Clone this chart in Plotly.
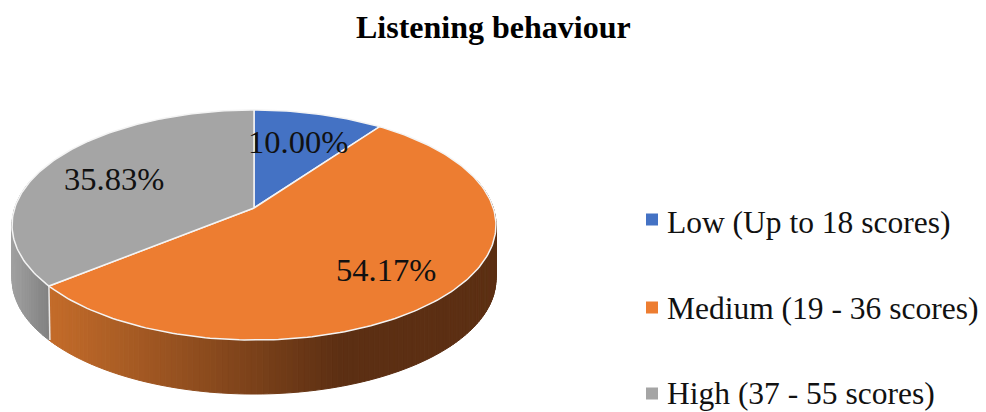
import math
import plotly.graph_objects as go

categories = ["Low (Up to 18 scores)", "Medium (19 - 36 scores)", "High (37 - 55 scores)"]
values = [10.00, 54.17, 35.83]
value_labels = ["10.00%", "54.17%", "35.83%"]
title_text = "Listening behaviour"
colors = ["#4472C4", "#ED7D31", "#A5A5A5"]

W, H = 986, 412
CX, CY = 254, 208
A, B, K = 239.3, 112.5, 0.148
DEPTH = 54
FONT = "Liberation Serif"


def project(angle_deg):
    t = math.radians(angle_deg)
    u, v = math.sin(t), math.cos(t)
    d = 1 + K * v
    return CX + A * u / d, CY - B * v / d


def mix(c1, c2, f):
    f = max(0.0, min(1.0, f))
    return "rgb(%d,%d,%d)" % tuple(round(a + (b - a) * f) for a, b in zip(c1, c2))


def wall_color(i, x):
    if i == 1:
        if x < 340:
            return mix((196, 108, 42), (92, 47, 19), (x - 48) / 292)
        return "rgb(92,47,19)"
    return mix((160, 160, 160), (128, 128, 128), (x - 12) / 38)


fig = go.Figure()
total = sum(values)
start = 0.0
spans = []
for val in values:
    spans.append((start, start + 360 * val / total))
    start += 360 * val / total

# side walls
for i, (a0, a1) in enumerate(spans):
    lo, hi = max(a0, 75), min(a1, 285)
    if hi <= lo:
        continue
    n = max(2, int((hi - lo) / 1.2))
    for j in range(n):
        s0 = lo + (hi - lo) * j / n
        s1 = lo + (hi - lo) * (j + 1) / n
        x0, y0 = project(s0)
        x1, y1 = project(s1)
        col = wall_color(i, (x0 + x1) / 2)
        fig.add_trace(go.Scatter(
            x=[x0, x1, x1, x0, x0], y=[y0, y1, y1 + DEPTH, y0 + DEPTH, y0],
            mode="lines", fill="toself", fillcolor=col,
            line=dict(color=col, width=1), hoverinfo="skip", showlegend=False))

# seam between the orange and grey walls
sx, sy = project(spans[1][1])
fig.add_trace(go.Scatter(x=[sx, sx + 1], y=[sy, sy + DEPTH], mode="lines",
                         line=dict(color="#E8E8E8", width=1.5),
                         hoverinfo="skip", showlegend=False))

# top face
for i, (a0, a1) in enumerate(spans):
    n = max(2, int(a1 - a0))
    pts = [project(a0 + (a1 - a0) * j / n) for j in range(n + 1)]
    xs = [CX] + [p[0] for p in pts] + [CX]
    ys = [CY] + [p[1] for p in pts] + [CY]
    fig.add_trace(go.Scatter(x=xs, y=ys, mode="lines", fill="toself",
                             fillcolor=colors[i], line=dict(color="#F4F4F4", width=1.5),
                             hoverinfo="skip", showlegend=False))

# value labels
label_xy = [(298, 142), (386, 270), (114, 179)]
for txt, (x, y) in zip(value_labels, label_xy):
    fig.add_annotation(x=x, y=y, text=txt, showarrow=False,
                       font=dict(family=FONT, size=32.5, color="#111111"))

# legend
legend_y = [222, 308, 393]
marker_y = [219.5, 307.5, 393.5]
for name, col, y, my in zip(categories, colors, legend_y, marker_y):
    fig.add_trace(go.Scatter(x=[652], y=[my], mode="markers",
                             marker=dict(symbol="square", size=12, color=col),
                             hoverinfo="skip", showlegend=False))
    fig.add_annotation(x=665, y=y, text=name, showarrow=False, xanchor="left",
                       font=dict(family=FONT, size=31.5, color="#111111"))

fig.add_annotation(x=493, y=27, text=f"<b>{title_text}</b>", showarrow=False,
                   font=dict(family=FONT, size=32, color="#000000"))

fig.update_layout(
    width=W, height=H, margin=dict(l=0, r=0, t=0, b=0),
    paper_bgcolor="white", plot_bgcolor="white", showlegend=False,
    xaxis=dict(range=[0, W], visible=False, fixedrange=True),
    yaxis=dict(range=[H, 0], visible=False, fixedrange=True),
)
fig.write_html("out.html", config={"displayModeBar": False},
               post_script="document.body.style.margin='0';document.body.style.overflow='hidden';")
